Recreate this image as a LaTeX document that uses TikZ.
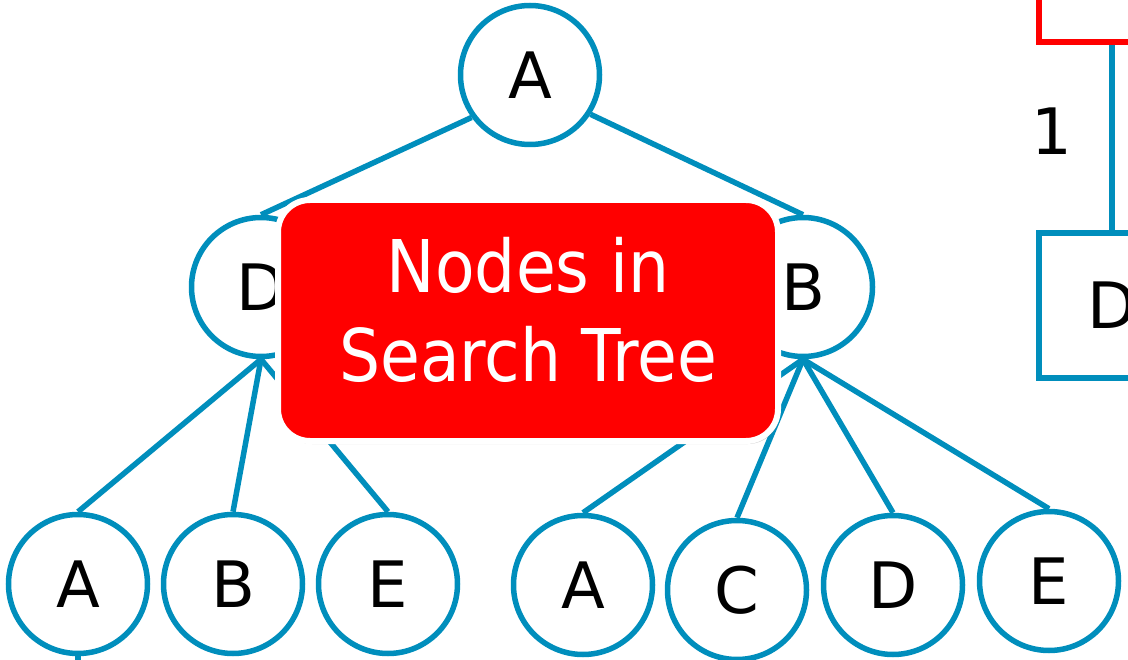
\documentclass[tikz,border=0pt]{standalone}
\usepackage{fontspec}
\setmainfont{DejaVu Sans}
\newfontfamily\notefont[FakeStretch=0.89]{DejaVu Sans}
\usepackage{tikz}
\usetikzlibrary{positioning}
\usetikzlibrary{shadows}
\definecolor{treeblue}{RGB}{0,142,188}
\definecolor{notered}{RGB}{255,0,0}
\tikzset{
    tnode/.style={circle, draw=treeblue, line width=5.5pt, fill=white,
                  minimum size=139pt, inner sep=0pt, font=\fontsize{64}{77}\selectfont},
    snode/.style={rectangle, draw=treeblue, line width=5.5pt, fill=white,
                  minimum width=146pt, minimum height=145pt, inner sep=0pt,
                  font=\fontsize{64}{77}\selectfont},
    tedge/.style={draw=treeblue, line width=5.5pt},
    notebox/.style={rectangle, rounded corners=32pt, draw=white, line width=6pt,
                    fill=notered, minimum width=500pt, minimum height=241pt,
                    drop shadow={shadow xshift=2pt, shadow yshift=-3pt, opacity=0.35, fill=black!50}},
    notetext/.style={text=white, align=center, inner sep=0pt,
                     font=\notefont\fontsize{72.7}{89}\selectfont},
    numlabel/.style={inner sep=0pt, font=\fontsize{64}{77}\selectfont}
}
\begin{document}
\begin{tikzpicture}[x=1pt,y=-1pt]
                    \clip (0,0) rectangle (1128,660) ;
                    % root of the search tree
                    \node at ( 530, 75) [tnode] (nA)  {A} ;
                    % second level
                    \node at ( 261,287) [tnode] (nD)  {D} ;
                    \node at ( 803,287) [tnode] (nB)  {B} ;
                    % children of D
                    \node at (  78,584) [tnode] (nDA) {A} ;
                    \node at ( 233,584) [tnode] (nDB) {B} ;
                    \node at ( 388,584) [tnode] (nDE) {E} ;
                    % children of B
                    \node at ( 583,585) [tnode] (nBA) {A} ;
                    \node at ( 737,590) [tnode] (nBC) {C} ;
                    \node at ( 893,585) [tnode] (nBD) {D} ;
                    \node at (1049,581) [tnode] (nBE) {E} ;
                    \coordinate (nDAlow) at (78,690) ;
                    % tree edges
                    \draw[tedge] (nA.216)  -- (nD.north) ;
                    \draw[tedge] (nA.-33)  -- (nB.north) ;
                    \foreach \c in {nDA,nDB,nDE}
                        \draw[tedge] (nD.south) -- (\c.north) ;
                    \foreach \c in {nBA,nBC,nBD,nBE}
                        \draw[tedge] (nB.south) -- (\c.north) ;
                    \draw[tedge] (nDA.south) -- (nDAlow) ;
                    % the search graph on the right
                    \node at (1112,-30.5) [snode, draw=notered] (nSR) {} ;
                    \node at (1112,305.5) [snode] (nSD) {D} ;
                    \draw[tedge] (nSR.south) -- node[numlabel, midway, left=37pt, yshift=6pt] {1} (nSD.north) ;
                    % the note
                    \node at (528,320.5) [notebox] (nNote) {} ;
                    \node at (nNote.center) [notetext, yshift=10.6pt] (nNoteText) {Nodes in\\Search Tree} ;
                \end{tikzpicture}
\end{document}
